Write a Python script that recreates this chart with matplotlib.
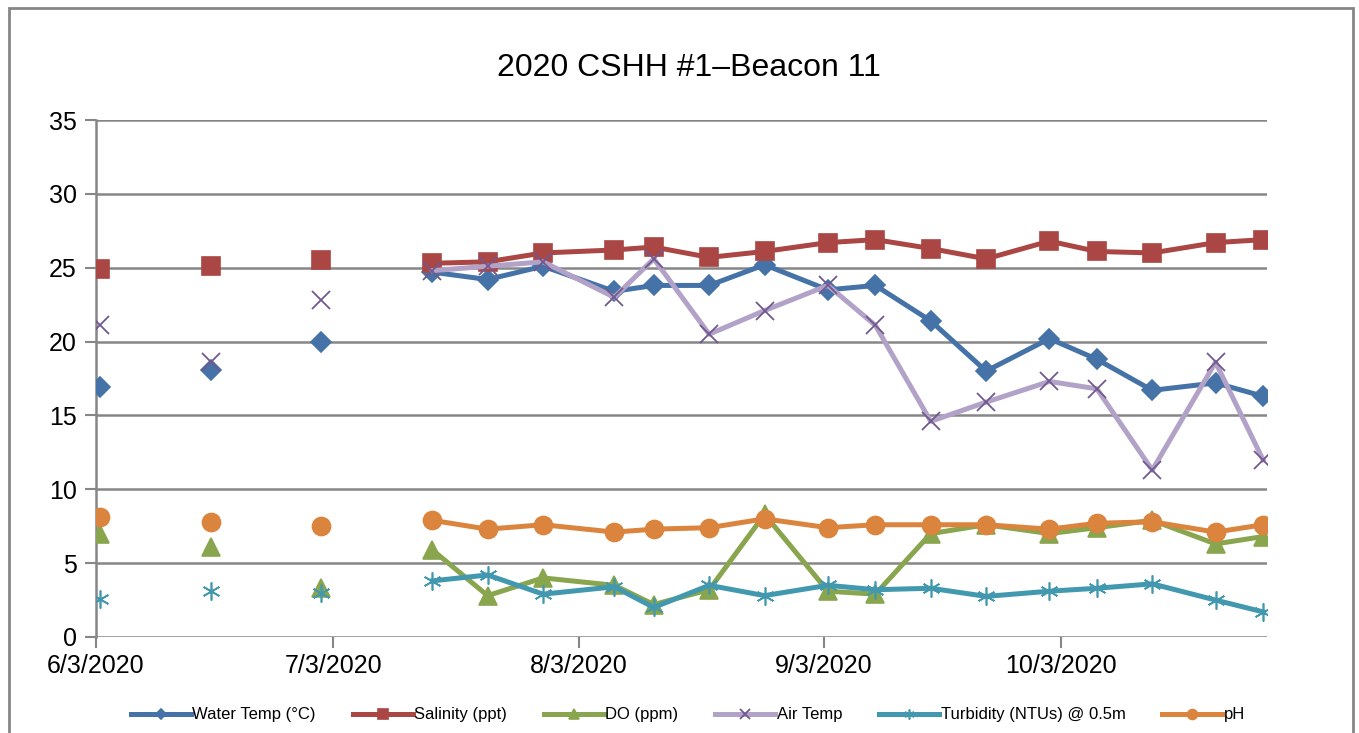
import numpy as np
import pandas as pd
import matplotlib
matplotlib.use("Agg")
import matplotlib.pyplot as plt
from matplotlib.patches import Rectangle

plt.rcParams['font.family'] = ['Liberation Sans', 'DejaVu Sans']

# sample dates (Excel places each date in the middle of its day)
dates = pd.to_datetime([
    "2020-06-03", "2020-06-17", "2020-07-01", "2020-07-15", "2020-07-22",
    "2020-07-29", "2020-08-07", "2020-08-12", "2020-08-19", "2020-08-26",
    "2020-09-03", "2020-09-09", "2020-09-16", "2020-09-23", "2020-10-01",
    "2020-10-07", "2020-10-14", "2020-10-22", "2020-10-28"])

water_temp = [16.9, 18.1, 20.0, 24.7, 24.2, 25.1, 23.4, 23.8, 23.8, 25.2,
              23.5, 23.8, 21.4, 18.0, 20.2, 18.8, 16.7, 17.2, 16.3]
salinity = [24.9, 25.1, 25.5, 25.3, 25.4, 26.0, 26.2, 26.4, 25.7, 26.1,
            26.7, 26.9, 26.3, 25.6, 26.8, 26.1, 26.0, 26.7, 26.9]
do_ppm = [7.0, 6.1, 3.3, 5.9, 2.8, 4.0, 3.5, 2.2, 3.2, 8.3,
          3.1, 2.9, 7.0, 7.6, 7.0, 7.4, 7.9, 6.3, 6.8]
air_temp = [21.1, 18.6, 22.8, 24.8, 25.1, 25.4, 23.0, 25.6, 20.5, 22.1,
            23.8, 21.1, 14.6, 15.9, 17.3, 16.8, 11.3, 18.6, 12.0]
turbidity = [2.6, 3.1, 3.0, 3.8, 4.2, 2.9, 3.4, 2.0, 3.5, 2.8,
             3.5, 3.2, 3.3, 2.75, 3.1, 3.3, 3.6, 2.5, 1.7]
ph = [8.1, 7.8, 7.5, 7.9, 7.3, 7.6, 7.1, 7.3, 7.4, 8.0,
      7.4, 7.6, 7.6, 7.6, 7.3, 7.7, 7.8, 7.1, 7.6]

tick_dates = pd.to_datetime(["2020-06-03", "2020-07-03", "2020-08-03",
                             "2020-09-03", "2020-10-03"])
tick_labels = ["6/3/2020", "7/3/2020", "8/3/2020", "9/3/2020", "10/3/2020"]

# series: label, values, line colour, marker, marker colour, marker size
series = [
    ("Water Temp (°C)", water_temp, "#4572A7", "D", "#4572A7", 10),
    ("Salinity (ppt)", salinity, "#AA4643", "s", "#AA4643", 13),
    ("DO (ppm)", do_ppm, "#89A54E", "^", "#89A54E", 13),
    ("Air Temp", air_temp, "#B3A2C7", "x", "#71588F", 13),
    ("Turbidity (NTUs) @ 0.5m", turbidity, "#4198AF", (6, 2, 0), "#4198AF", 13),
    ("pH", ph, "#DB843D", "o", "#DB843D", 13),
]

x = dates + pd.Timedelta(hours=12)

fig = plt.figure(figsize=(13.59, 7.33), dpi=100)
ax = fig.add_axes([96 / 1359, 1 - 637 / 733, (1267 - 96) / 1359, (637 - 120) / 733])

# outer chart border
fig.patches.append(Rectangle((9 / 1359, -0.05), (1353 - 9) / 1359, 1.05 - 8 / 733,
                             transform=fig.transFigure, fill=False,
                             edgecolor="#868686", linewidth=2))

handles = []
for label, vals, lc, mk, mc, ms in series:
    vals = np.array(vals, dtype=float)
    mew = 1.3 if mk == "x" else 1.2
    # first three samples stand alone, no connecting line
    ax.plot(x[:3], vals[:3], linestyle="none", marker=mk, markersize=ms,
            color=mc, markeredgecolor=mc, markeredgewidth=mew, zorder=3)
    h, = ax.plot(x[3:], vals[3:], color=lc, linewidth=3.6, marker=mk,
                 markersize=ms, markerfacecolor=mc, markeredgecolor=mc,
                 markeredgewidth=mew, zorder=3, label=label)
    handles.append(h)

ax.set_xlim(pd.Timestamp("2020-06-03"), pd.Timestamp("2020-10-29"))
ax.set_ylim(0, 35)
ax.set_yticks(range(0, 36, 5))
ax.set_xticks(tick_dates)
ax.set_xticklabels(tick_labels)

ax.grid(axis="y", color="#868686", linewidth=1.8)
ax.set_axisbelow(True)
for s in ["top", "right", "bottom"]:
    ax.spines[s].set_visible(False)
ax.spines["left"].set_color("#868686")
ax.spines["left"].set_linewidth(1.8)
ax.tick_params(axis="y", length=8, width=1.5, color="#868686", labelsize=18, pad=6)
ax.tick_params(axis="x", length=8, width=1.5, color="#868686", labelsize=18, pad=4)

fig.text(689 / 1359, 1 - 68 / 733, "2020 CSHH #1\u2013Beacon 11", ha="center",
         va="center", fontsize=23)

fig.legend(handles=handles, loc="center", bbox_to_anchor=(688 / 1359, 1 - 715 / 733),
           ncol=6, frameon=False, handlelength=3.6, columnspacing=2.2,
           handletextpad=0.1, markerscale=0.55,
           prop={"family": ["Liberation Sans", "DejaVu Sans"], "size": 12})

fig.savefig("out.png", dpi=100)
